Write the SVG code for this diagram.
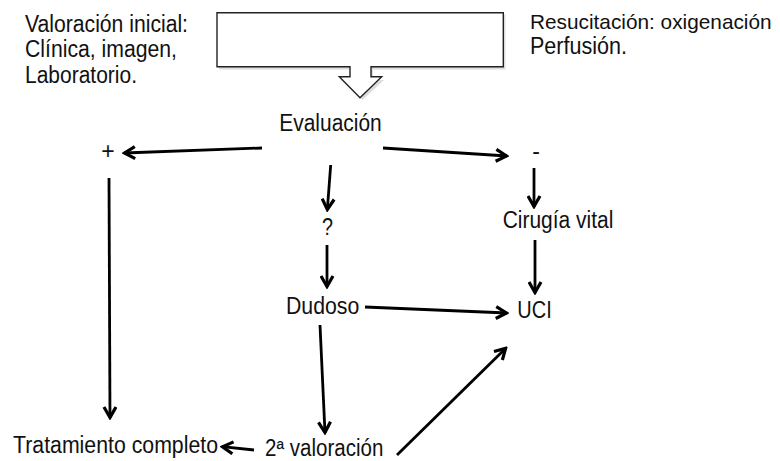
<svg xmlns="http://www.w3.org/2000/svg" width="780" height="461" viewBox="0 0 780 461">
<defs>
<style>
text{font-family:"Liberation Sans",Arial,sans-serif;font-size:23px;fill:#111;}
.c{stroke:#000;stroke-width:2.8;fill:none;marker-end:url(#ah);}
.box{fill:#fff;stroke:#222;stroke-width:1.4;}
</style>
<marker id="ah" viewBox="0 0 15 15" refX="13" refY="7.5" markerWidth="15" markerHeight="15" markerUnits="userSpaceOnUse" orient="auto">
<path d="M2,1.5 L12.5,7.5 L2,13.5" fill="none" stroke="#000" stroke-width="3.2"/>
</marker>
</defs>
<rect width="780" height="461" fill="#fff"/>
<g id="callout">
<path d="M219,14.5 H505.5 V69.5 H373 V80 H384 L362.5,100 L341,80 H352 V69.5 H219 Z" fill="#bbb" opacity="0.5"/>
<path class="box" d="M217,12.7 H503.3 V66.7 H371 V76.7 H381.7 L360,97.7 L339.3,76.7 H350 V66.7 H217 Z"/>
</g>
<g id="note-left">
<text x="25" y="31.5" textLength="163" lengthAdjust="spacingAndGlyphs">Valoración inicial:</text>
<text x="25" y="57" textLength="152" lengthAdjust="spacingAndGlyphs">Clínica, imagen,</text>
<text x="25" y="82.5" textLength="112" lengthAdjust="spacingAndGlyphs">Laboratorio.</text>
</g>
<g id="note-right">
<text x="530" y="29" style="font-size:20.8px">Resucitación: oxigenación</text>
<text x="530" y="54" textLength="97" lengthAdjust="spacingAndGlyphs">Perfusión.</text>
</g>
<g id="evaluacion"><text x="279.3" y="130.7" textLength="102.4" lengthAdjust="spacingAndGlyphs">Evaluación</text></g>
<g id="positivo"><text x="108" y="159" text-anchor="middle">+</text></g>
<g id="negativo"><text x="536" y="159" text-anchor="middle">-</text></g>
<g id="interrogante"><text x="322" y="235" textLength="11" lengthAdjust="spacingAndGlyphs">?</text></g>
<g id="cirugia"><text x="502.7" y="228.3" textLength="110.6" lengthAdjust="spacingAndGlyphs">Cirugía vital</text></g>
<g id="dudoso"><text x="286" y="313.5" textLength="73.3" lengthAdjust="spacingAndGlyphs">Dudoso</text></g>
<g id="uci"><text x="517.3" y="318" textLength="34.4" lengthAdjust="spacingAndGlyphs">UCI</text></g>
<g id="tratamiento"><text x="13" y="453" textLength="205" lengthAdjust="spacingAndGlyphs">Tratamiento completo</text></g>
<g id="valoracion2"><text x="265" y="456" textLength="118.3" lengthAdjust="spacingAndGlyphs">2ª valoración</text></g>
<g id="connectors">
<line class="c" x1="262" y1="148" x2="124" y2="153"/>
<line class="c" x1="383" y1="148" x2="507" y2="156"/>
<line class="c" x1="330.7" y1="165" x2="327.3" y2="210"/>
<line class="c" x1="534" y1="168" x2="534" y2="207"/>
<line class="c" x1="327" y1="245" x2="327" y2="287"/>
<line class="c" x1="535" y1="240" x2="535" y2="293"/>
<line class="c" x1="365" y1="307" x2="507" y2="313"/>
<line class="c" x1="109" y1="178" x2="110" y2="418"/>
<line class="c" x1="320" y1="325" x2="325" y2="433"/>
<line class="c" x1="254" y1="450" x2="222" y2="446.7"/>
<line class="c" x1="397" y1="455" x2="506" y2="348"/>
</g>
</svg>
